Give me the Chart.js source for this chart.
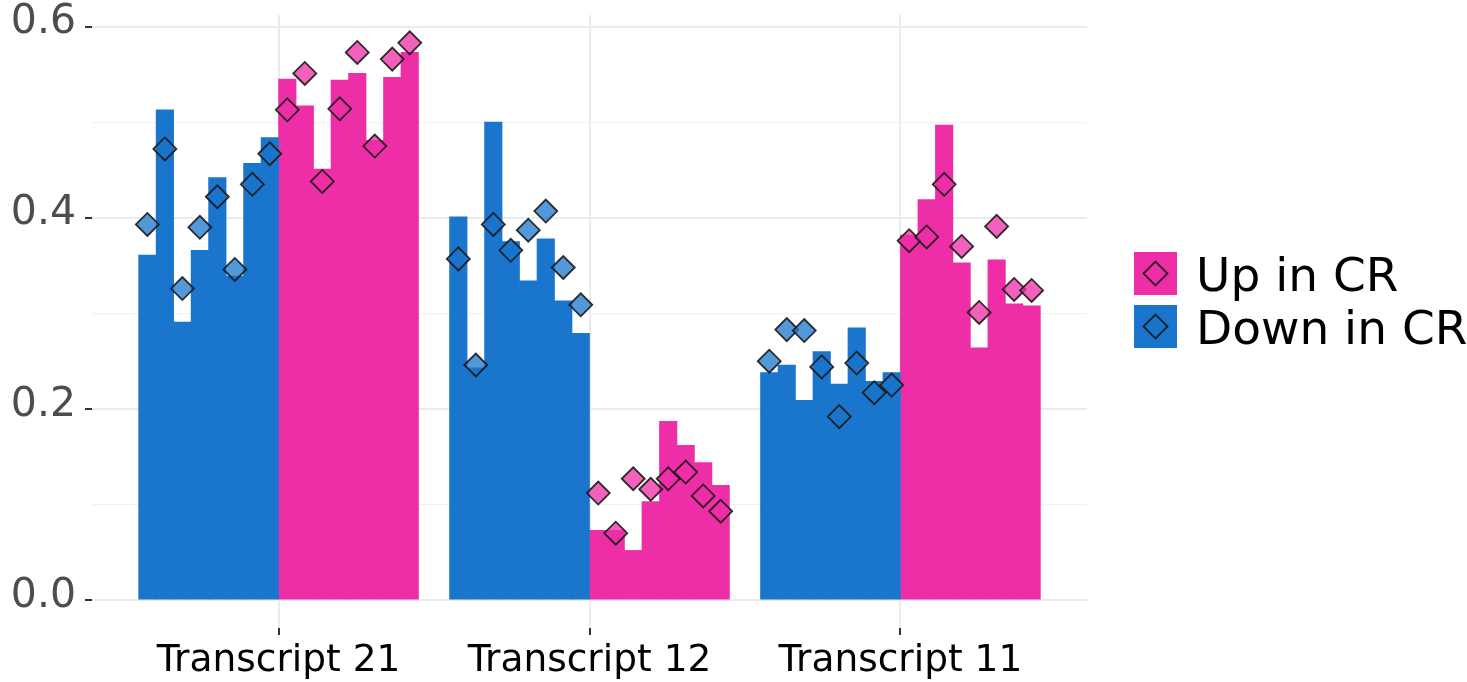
<!DOCTYPE html>
<html>
<head>
<meta charset="utf-8">
<script src="https://cdn.jsdelivr.net/npm/chart.js@4/dist/chart.umd.min.js"></script>
<style>
  html, body { margin: 0; padding: 0; background: #ffffff; }
  #wrap { width: 1467px; height: 682px; }
</style>
</head>
<body>
<div id="wrap"><canvas id="chart" width="1467" height="682"></canvas></div>
<script>
// Categories and series
const groups = ['Transcript 21', 'Transcript 12', 'Transcript 11'];
const seriesNames = ['Up in CR', 'Down in CR'];
const seriesColors = ['#ee2ea6', '#1a75cc'];
const pointFills = ['rgba(238,46,166,0.75)', 'rgba(26,117,204,0.75)'];

// Bar heights, one row per transcript (8 samples each)
const downBars = [
  [0.361, 0.513, 0.291, 0.366, 0.442, 0.339, 0.457, 0.484],
  [0.401, 0.243, 0.500, 0.375, 0.334, 0.378, 0.313, 0.279],
  [0.238, 0.246, 0.209, 0.260, 0.226, 0.285, 0.229, 0.238]
];
const upBars = [
  [0.545, 0.517, 0.451, 0.544, 0.551, 0.481, 0.547, 0.573],
  [0.073, 0.073, 0.052, 0.103, 0.187, 0.162, 0.144, 0.120],
  [0.382, 0.419, 0.497, 0.353, 0.264, 0.356, 0.310, 0.308]
];

// Diamond markers, one per bar
const downPoints = [
  [0.393, 0.472, 0.326, 0.390, 0.422, 0.346, 0.435, 0.467],
  [0.357, 0.246, 0.393, 0.366, 0.387, 0.407, 0.348, 0.309],
  [0.250, 0.283, 0.282, 0.244, 0.192, 0.248, 0.217, 0.225]
];
const upPoints = [
  [0.513, 0.551, 0.438, 0.514, 0.573, 0.475, 0.566, 0.583],
  [0.112, 0.070, 0.127, 0.116, 0.127, 0.134, 0.109, 0.093],
  [0.376, 0.380, 0.435, 0.370, 0.301, 0.391, 0.325, 0.324]
];

// Y tick values (labels on the even ones)
const yTicks = [0, 0.1, 0.2, 0.3, 0.4, 0.5, 0.6];

// Dodge layout: 16 bars share 90% of each category slot
const perGroup = 16;
const dodgeWidth = 0.9;
const barStep = dodgeWidth / perGroup;
const xPad = 0.6;

function place(rows, startSlot) {
  const out = [];
  rows.forEach((row, g) => {
    row.forEach((v, j) => {
      out.push({ x: g + 1 + (startSlot + j - (perGroup - 1) / 2) * barStep, y: v });
    });
  });
  return out;
}

const barCenters = [];
groups.forEach((_, g) => {
  for (let j = 0; j < perGroup; j++) barCenters.push(g + 1 + (j - (perGroup - 1) / 2) * barStep);
});

const allValues = [].concat(...downBars, ...upBars, ...downPoints, ...upPoints);
const yMaxData = Math.max(...allValues);
const yExpand = yMaxData * 0.05;

const isMajor = v => Math.abs(Math.round(v * 10) % 2) === 0;

// Short dark tick marks to the left of the panel at the labelled y values
const yTickMarks = {
  id: 'yTickMarks',
  afterDraw(chart) {
    const s = chart.scales.y;
    const ctx = chart.ctx;
    const len = 7;
    ctx.save();
    ctx.strokeStyle = '#333333';
    ctx.lineWidth = 2;
    s.ticks.forEach(t => {
      if (!isMajor(t.value)) return;
      const py = Math.round(s.getPixelForValue(t.value));
      ctx.beginPath();
      ctx.moveTo(s.right - len, py);
      ctx.lineTo(s.right, py);
      ctx.stroke();
    });
    ctx.restore();
  }
};

const legendPlugin = {
  id: 'sideLegend',
  afterDraw(chart) {
    const ctx = chart.ctx;
    const keySize = 43, keyX = 1134, keyY0 = 252, keyGap = 53;
    ctx.save();
    seriesNames.forEach((name, i) => {
      const y = keyY0 + i * keyGap;
      ctx.fillStyle = seriesColors[i];
      ctx.fillRect(keyX, y, keySize, keySize);
      const cx = keyX + keySize / 2, cy = y + keySize / 2, r = 12;
      ctx.beginPath();
      ctx.moveTo(cx - r, cy);
      ctx.lineTo(cx, cy - r);
      ctx.lineTo(cx + r, cy);
      ctx.lineTo(cx, cy + r);
      ctx.closePath();
      ctx.fillStyle = pointFills[i];
      ctx.fill();
      ctx.lineWidth = 1.8;
      ctx.strokeStyle = 'rgba(25,25,25,0.9)';
      ctx.stroke();
      ctx.fillStyle = '#000000';
      ctx.font = '47px "DejaVu Sans"';
      ctx.textBaseline = 'alphabetic';
      ctx.textAlign = 'left';
      ctx.fillText(name, 1196, cy + 0.729 * 47 / 2);
    });
    ctx.restore();
  }
};

const pointStyleOpts = (i) => ({
  showLine: false,
  pointStyle: 'rectRot',
  pointRadius: 11.5,
  pointBorderWidth: 1.8,
  pointBackgroundColor: pointFills[i],
  pointBorderColor: 'rgba(25,25,25,0.9)',
  xAxisID: 'xb',
  order: 1
});

const barOpts = (i) => ({
  backgroundColor: seriesColors[i],
  borderWidth: 0,
  grouped: false,
  barPercentage: 1,
  categoryPercentage: 1,
  xAxisID: 'xb',
  order: 2
});

new Chart(document.getElementById('chart'), {
  data: {
    datasets: [
      Object.assign({ type: 'bar', label: seriesNames[1], data: place(downBars, 0) }, barOpts(1)),
      Object.assign({ type: 'bar', label: seriesNames[0], data: place(upBars, 8) }, barOpts(0)),
      Object.assign({ type: 'line', label: seriesNames[1] + ' markers', data: place(downPoints, 0) }, pointStyleOpts(1)),
      Object.assign({ type: 'line', label: seriesNames[0] + ' markers', data: place(upPoints, 8) }, pointStyleOpts(0))
    ]
  },
  options: {
    responsive: false,
    animation: false,
    events: [],
    layout: { padding: { left: 0, top: 15, right: 380, bottom: 0 } },
    plugins: { legend: { display: false }, tooltip: { enabled: false } },
    scales: {
      xb: {
        type: 'linear',
        display: false,
        offset: false,
        grid: { offset: false },
        min: 1 - xPad,
        max: groups.length + xPad,
        afterBuildTicks: s => { s.ticks = barCenters.map(v => ({ value: v })); }
      },
      x: {
        type: 'linear',
        position: 'bottom',
        offset: false,
        min: 1 - xPad,
        max: groups.length + xPad,
        afterBuildTicks: s => { s.ticks = groups.map((_, i) => ({ value: i + 1 })); },
        afterFit: s => { s.height = 54; s.paddingLeft = 0; s.paddingRight = 0; },
        border: { display: false },
        grid: {
          color: '#ebebeb',
          lineWidth: 2,
          tickLength: 7,
          tickColor: '#333333',
          tickWidth: 2
        },
        ticks: {
          autoSkip: false,
          maxRotation: 0,
          minRotation: 0,
          padding: 4,
          color: '#000000',
          font: { family: 'DejaVu Sans', size: 37.5 },
          callback: v => groups[Math.round(v) - 1]
        }
      },
      y: {
        type: 'linear',
        min: -yExpand,
        max: yMaxData + yExpand,
        afterBuildTicks: s => { s.ticks = yTicks.map(v => ({ value: v })); },
        afterFit: s => { s.width = 92; s.paddingTop = 0; s.paddingBottom = 0; },
        border: { display: false },
        grid: {
          color: c => (c.tick && isMajor(c.tick.value)) ? '#ebebeb' : '#f2f2f2',
          lineWidth: c => (c.tick && isMajor(c.tick.value)) ? 2 : 1.3,
          tickLength: 7,
          tickColor: 'rgba(0,0,0,0)'
        },
        ticks: {
          autoSkip: false,
          padding: 9,
          labelOffset: -4,
          color: '#4d4d4d',
          font: { family: 'DejaVu Sans', size: 41 },
          callback: v => isMajor(v) ? v.toFixed(1) : ''
        }
      }
    }
  },
  plugins: [legendPlugin, yTickMarks]
});
</script>
</body>
</html>
